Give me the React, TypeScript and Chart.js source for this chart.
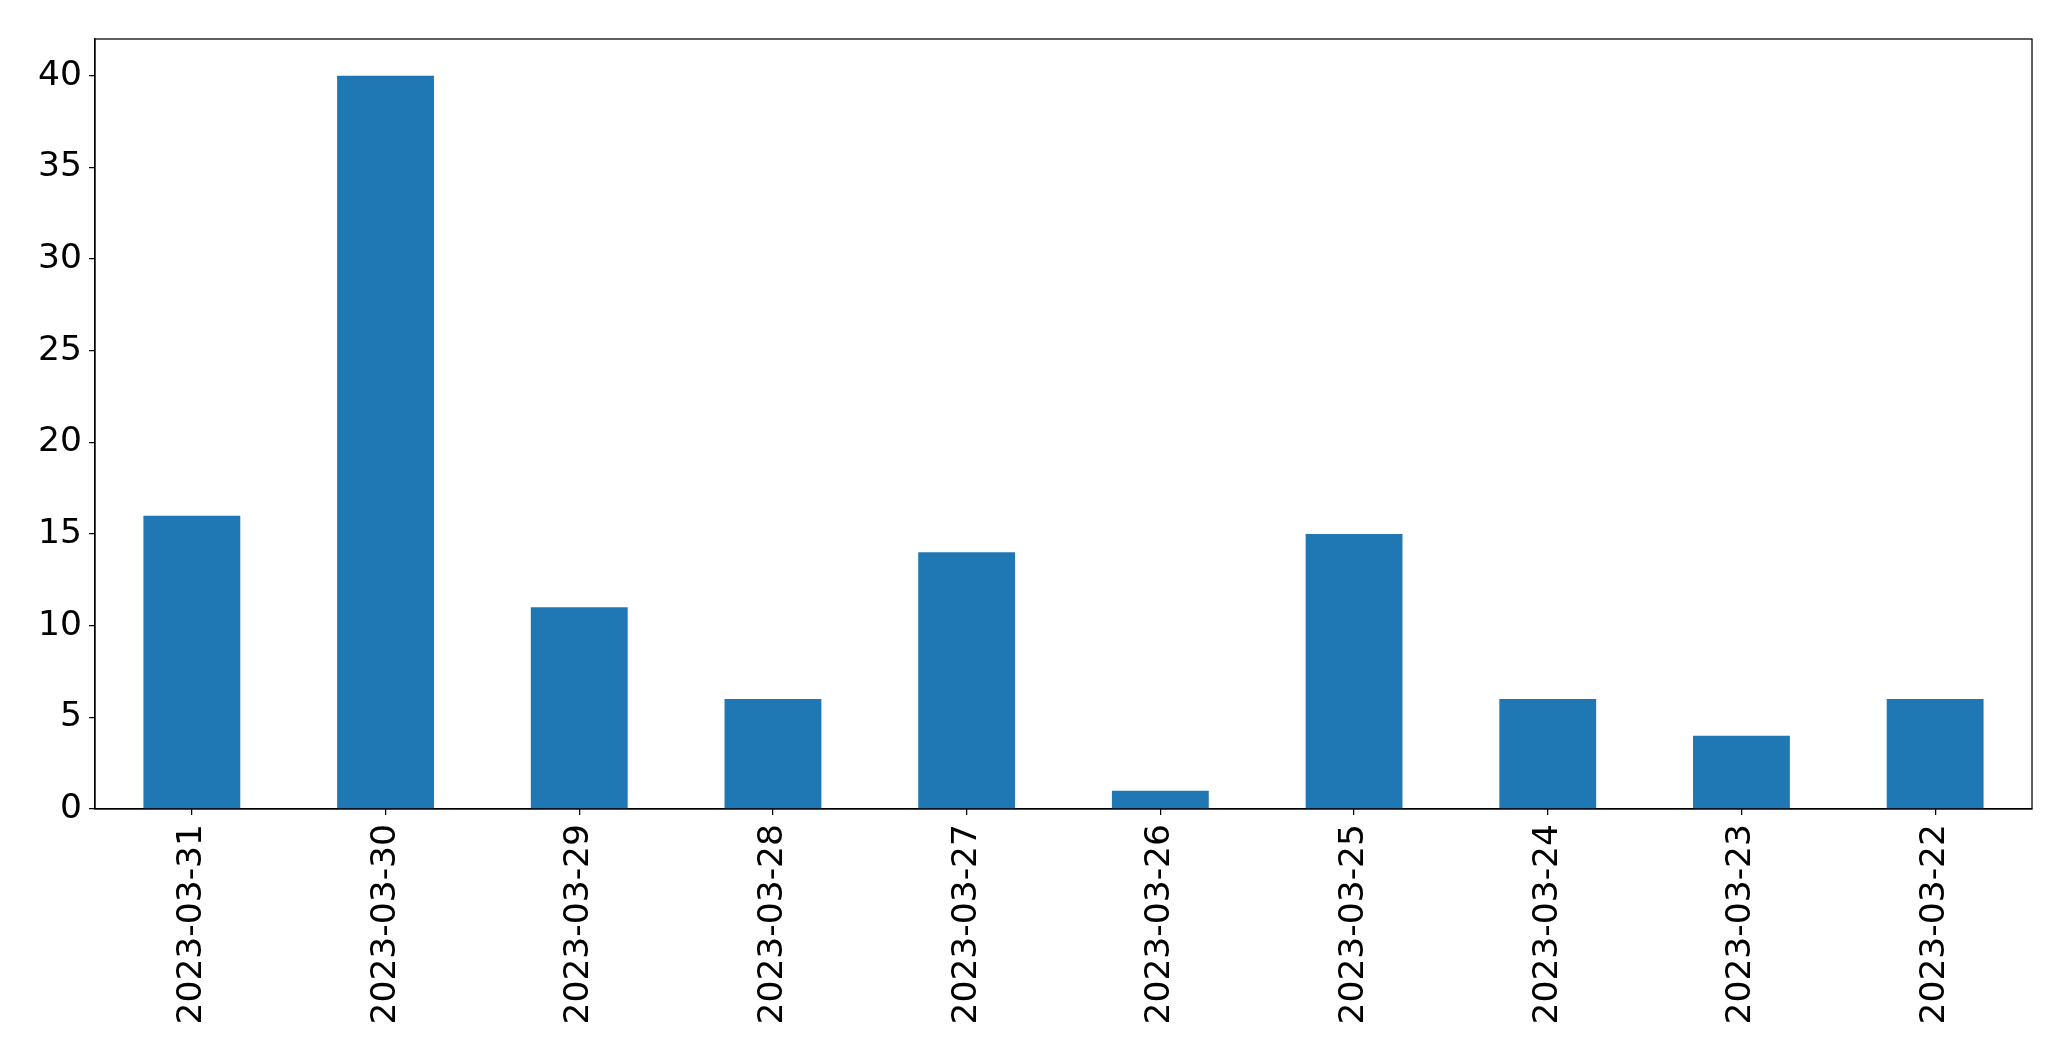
import React, { useEffect, useRef } from "react";
import { Chart, registerables } from "chart.js";

Chart.register(...registerables);

const categories = [
  "2023-03-31",
  "2023-03-30",
  "2023-03-29",
  "2023-03-28",
  "2023-03-27",
  "2023-03-26",
  "2023-03-25",
  "2023-03-24",
  "2023-03-23",
  "2023-03-22",
];
const values = [16, 40, 11, 6, 14, 1, 15, 6, 4, 6];
const yMin = 0;
const yMax = 42;
const yStep = 5;

const W = 2071;
const H = 1061;

const frame = {
  id: "frame",
  afterDraw(chart: any) {
    const { ctx, chartArea } = chart;
    ctx.save();
    ctx.strokeStyle = "#000";
    ctx.lineWidth = 1.25;
    ctx.strokeRect(chartArea.left, chartArea.top, chartArea.right - chartArea.left, chartArea.bottom - chartArea.top);
    ctx.restore();
  },
};

export default function App() {
  const ref = useRef<HTMLCanvasElement | null>(null);
  useEffect(() => {
    if (!ref.current) return;
    const font = { family: "'DejaVu Sans', sans-serif", size: 34.5 };
    const chart = new Chart(ref.current, {
      type: "bar",
      data: {
        labels: categories,
        datasets: [
          {
            data: values,
            backgroundColor: "#1f77b4",
            borderWidth: 0,
            barPercentage: 0.5,
            categoryPercentage: 1,
          },
        ],
      },
      options: {
        animation: false,
        responsive: false,
        devicePixelRatio: 1,
        layout: { padding: { left: 0, right: 39, top: 39, bottom: 0 } },
        plugins: { legend: { display: false }, tooltip: { enabled: false } },
        scales: {
          x: {
            offset: true,
            grid: { display: true, drawOnChartArea: false, offset: false, tickLength: 6, color: "#000", lineWidth: 1.25 },
            border: { display: true, color: "#000", width: 1.25 },
            ticks: { color: "#000", font, minRotation: 90, maxRotation: 90, padding: 9, autoSkip: false },
            afterFit: (s: any) => {
              s.height = 252;
            },
          },
          y: {
            min: yMin,
            max: yMax,
            grid: { display: true, drawOnChartArea: false, tickLength: 6, color: "#000", lineWidth: 1.25 },
            border: { display: true, color: "#000", width: 1.25 },
            ticks: { color: "#000", font, stepSize: yStep, includeBounds: false, padding: 7 },
            afterFit: (s: any) => {
              s.width = 95;
            },
          },
        },
      },
      plugins: [frame],
    } as any);
    return () => chart.destroy();
  }, []);
  return (
    <div style={{ position: "fixed", left: 0, top: 0, width: W, height: H, background: "#fff" }}>
      <canvas ref={ref} width={W} height={H} style={{ width: W, height: H, display: "block" }} />
    </div>
  );
}
